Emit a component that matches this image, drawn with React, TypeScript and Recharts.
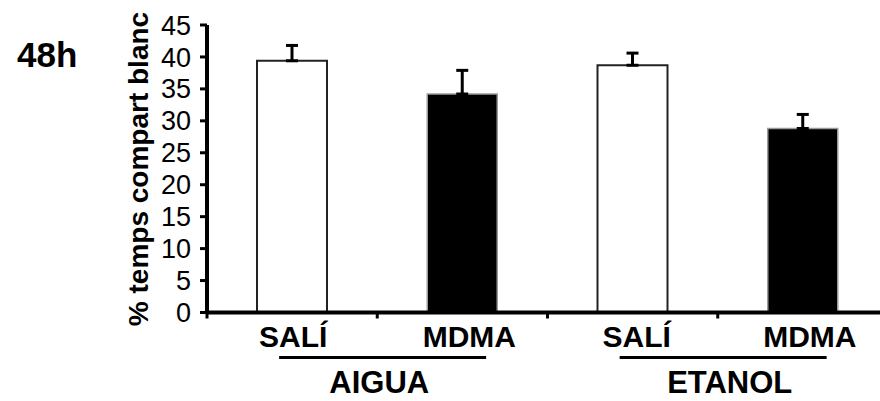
import React from 'react';
import { BarChart, Bar, XAxis, YAxis, Cell, ErrorBar } from 'recharts';

const FONT = '"Liberation Sans", Arial, Helvetica, sans-serif';

// ---- data ----
const categories = ['SALÍ', 'MDMA', 'SALÍ', 'MDMA'];
const groups = ['AIGUA', 'ETANOL'];
const means = [39.4, 34.2, 38.7, 28.8];
const sems = [2.4, 3.7, 1.9, 2.2];
const yTicks = [0, 5, 10, 15, 20, 25, 30, 35, 40, 45];
const yLabel = '% temps compart blanc';
const timeLabel = '48h';

// ---- styles ----
const fills = ['#ffffff', '#000000', '#ffffff', '#000000'];
const strokes = ['#222222', '#9a9a9a', '#222222', '#9a9a9a'];
const labelDx = [1, 7, 4, 7];
const groupDx = [2, 12];

const data = categories.map((c, i) => ({
  key: `${groups[Math.floor(i / 2)]}-${c}`,
  name: c,
  group: groups[Math.floor(i / 2)],
  value: means[i],
  err: [0, sems[i]],
}));

const XTick = (props: any) => {
  const { x, y, index, width, visibleTicksCount, payload } = props;
  const count = visibleTicksCount || categories.length;
  const band =
    width && count ? width / count : payload && payload.offset ? payload.offset * 2 : 170;
  const row = data[index];
  const isGroupStart = index % 2 === 0;
  const gi = Math.floor(index / 2);
  return (
    <g>
      <line x1={x - band / 2} x2={x - band / 2} y1={y} y2={y + 6} stroke="#000" strokeWidth={3} />
      {index === count - 1 && (
        <line x1={x + band / 2} x2={x + band / 2} y1={y} y2={y + 6} stroke="#000" strokeWidth={3} />
      )}
      <text
        x={x + labelDx[index]}
        y={y + 34.5}
        textAnchor="middle"
        fontSize={30}
        fontWeight="bold"
        fontFamily={FONT}
        fill="#000"
      >
        {row ? row.name : ''}
      </text>
      {isGroupStart && row && (
        <g>
          <line x1={x - 13} x2={x + 194} y1={y + 45} y2={y + 45} stroke="#000" strokeWidth={3} />
          <text
            x={x + band / 2 + groupDx[gi]}
            y={y + 80.5}
            textAnchor="middle"
            fontSize={31}
            fontWeight="bold"
            fontFamily={FONT}
            fill="#000"
          >
            {row.group}
          </text>
        </g>
      )}
    </g>
  );
};

const renderTitles = () => (
  <g>
    <text
      x={148}
      y={169}
      transform="rotate(-90, 148, 169)"
      textAnchor="middle"
      fontSize={28}
      fontWeight="bold"
      fontFamily={FONT}
      fill="#000"
    >
      {yLabel}
    </text>
    <text x={17} y={67} fontSize={35} fontWeight="bold" fontFamily={FONT} fill="#000">
      {timeLabel}
    </text>
  </g>
);

export default function App() {
  return (
    <div style={{ position: 'absolute', left: 0, top: 0, fontFamily: FONT }}>
      <BarChart
        width={880}
        height={401}
        data={data}
        margin={{ top: 25, right: -8, bottom: 8.5, left: 0 }}
      >
        <XAxis
          dataKey="key"
          type="category"
          height={80}
          interval={0}
          tickSize={0}
          tickMargin={0}
          tickLine={false}
          axisLine={{ stroke: '#000', strokeWidth: 4 }}
          tick={<XTick />}
        />
        <YAxis
          type="number"
          domain={[0, 45]}
          ticks={yTicks}
          interval={0}
          width={207}
          tickSize={7}
          tickMargin={9}
          axisLine={{ stroke: '#000', strokeWidth: 4 }}
          tickLine={{ stroke: '#000', strokeWidth: 3 }}
          tick={{ fill: '#000', fontSize: 27, fontFamily: FONT }}
          label={renderTitles}
        />
        <Bar dataKey="value" barSize={70} isAnimationActive={false}>
          {data.map((d, i) => (
            <Cell key={d.key} fill={fills[i]} stroke={strokes[i]} strokeWidth={i % 2 === 0 ? 2 : 1.5} />
          ))}
          <ErrorBar dataKey="err" direction="y" width={6} strokeWidth={3} stroke="#000" isAnimationActive={false} />
        </Bar>
      </BarChart>
    </div>
  );
}
